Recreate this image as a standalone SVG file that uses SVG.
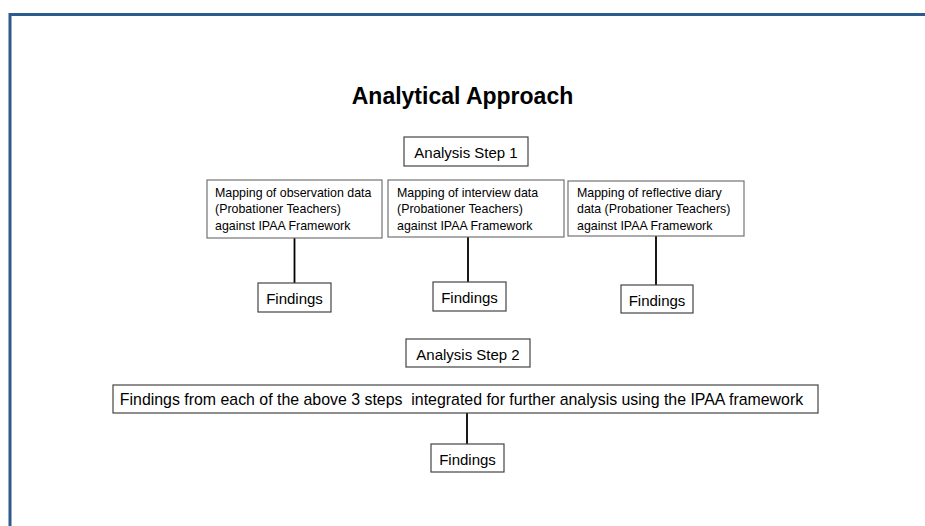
<svg xmlns="http://www.w3.org/2000/svg" width="925" height="526" viewBox="0 0 925 526">
<style>
.frame{fill:none;stroke:#2F5A8E;stroke-width:3}
.box{fill:#fff;stroke:#444;stroke-width:1.2}
.box2{fill:#fff;stroke:#666;stroke-width:1.1}
.t{font-family:"Liberation Sans",Arial,sans-serif;fill:#000}
.title{font-size:23px;font-weight:bold;text-anchor:middle}
.m{font-size:15px;text-anchor:middle}
.l{font-size:15.9px;text-anchor:middle;white-space:pre}
.s{font-size:12.4px}
.conn line{stroke:#000;stroke-width:1.8}
</style>
<rect width="925" height="526" fill="#fff"/>
<path class="frame" d="M10,526 V14.5 H925"/>
<g id="title"><text class="t title" x="462.5" y="104">Analytical Approach</text></g>
<g class="conn" id="connectors">
<line x1="294.5" y1="238" x2="294.5" y2="283"/>
<line x1="468" y1="237" x2="468" y2="282"/>
<line x1="656" y1="236" x2="656" y2="285"/>
<line x1="467" y1="413" x2="467" y2="444"/>
</g>
<g id="step1"><rect class="box" x="404" y="137" width="124" height="29"/><text class="t m" x="466" y="158">Analysis Step 1</text></g>
<g id="map-observation"><rect class="box2" x="207" y="180" width="175" height="58"/>
<text class="t s" x="215" y="196.5">Mapping of observation data</text>
<text class="t s" x="215" y="213">(Probationer Teachers)</text>
<text class="t s" x="215" y="229.5">against IPAA Framework</text></g>
<g id="map-interview"><rect class="box2" x="388" y="180" width="176" height="57"/>
<text class="t s" x="397" y="196.5">Mapping of interview data</text>
<text class="t s" x="397" y="213">(Probationer Teachers)</text>
<text class="t s" x="397" y="229.5">against IPAA Framework</text></g>
<g id="map-diary"><rect class="box2" x="568" y="181" width="176" height="55"/>
<text class="t s" x="577" y="196.5">Mapping of reflective diary</text>
<text class="t s" x="577" y="213">data (Probationer Teachers)</text>
<text class="t s" x="577" y="229.5">against IPAA Framework</text></g>
<g id="findings1"><rect class="box" x="258" y="283" width="73" height="29"/><text class="t m" x="294.5" y="304">Findings</text></g>
<g id="findings2"><rect class="box" x="433" y="282" width="73" height="29"/><text class="t m" x="469.5" y="303">Findings</text></g>
<g id="findings3"><rect class="box" x="621" y="285" width="72" height="28"/><text class="t m" x="657" y="306">Findings</text></g>
<g id="step2"><rect class="box" x="406" y="339" width="124" height="28"/><text class="t m" x="468" y="360">Analysis Step 2</text></g>
<g id="integrated"><rect class="box" x="113" y="385" width="705" height="28"/><text class="t l" x="461.5" y="405" xml:space="preserve">Findings from each of the above 3 steps  integrated for further analysis using the IPAA framework</text></g>
<g id="findings-final"><rect class="box" x="431" y="444" width="73" height="28"/><text class="t m" x="467.5" y="465">Findings</text></g>
</svg>
